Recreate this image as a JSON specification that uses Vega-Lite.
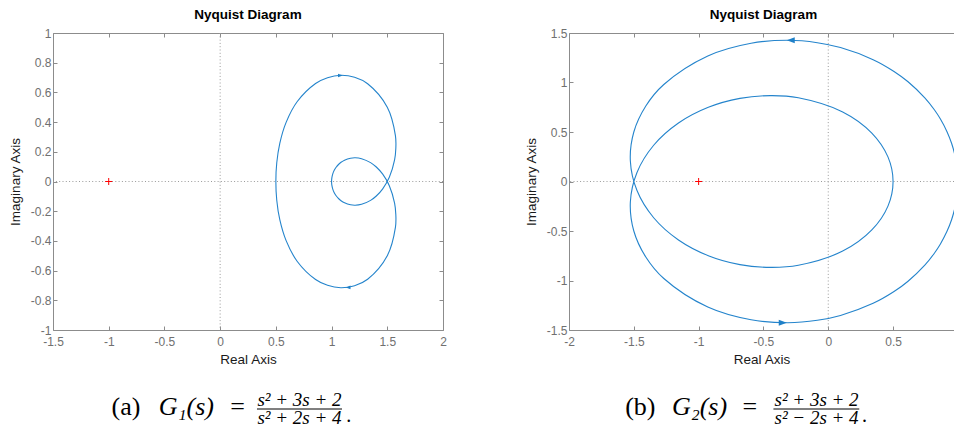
{
  "$schema": "https://vega.github.io/schema/vega-lite/v6.json",
  "background": "white",
  "padding": {"left": 8, "top": 7, "right": 0, "bottom": 0},
  "datasets": {
    "g1": [
      {"w": -1000000, "re": 1, "im": 0},
      {"w": -100, "re": 1.0004, "im": 0.0100},
      {"w": -40, "re": 1.0025, "im": 0.0249},
      {"w": -20, "re": 1.0100, "im": 0.0495},
      {"w": -13, "re": 1.0239, "im": 0.0750},
      {"w": -10, "re": 1.0408, "im": 0.0957},
      {"w": -8, "re": 1.0643, "im": 0.1162},
      {"w": -7, "re": 1.0847, "im": 0.1292},
      {"w": -6, "re": 1.1164, "im": 0.1438},
      {"w": -5, "re": 1.1701, "im": 0.1571},
      {"w": -4.5, "re": 1.2116, "im": 0.1598},
      {"w": -4, "re": 1.2692, "im": 0.1538},
      {"w": -3.5, "re": 1.3502, "im": 0.1271},
      {"w": -3.25, "re": 1.4015, "im": 0.0976},
      {"w": -3, "re": 1.4590, "im": 0.0492},
      {"w": -2.75, "re": 1.5182, "im": -0.0280},
      {"w": -2.5, "re": 1.5655, "im": -0.1455},
      {"w": -2.375, "re": 1.5766, "im": -0.2219},
      {"w": -2.25, "re": 1.5730, "im": -0.3092},
      {"w": -2, "re": 1.5, "im": -0.5},
      {"w": -1.75, "re": 1.3237, "im": -0.6581},
      {"w": -1.625, "re": 1.2065, "im": -0.7018},
      {"w": -1.5, "re": 1.0829, "im": -0.7150},
      {"w": -1.375, "re": 0.9636, "im": -0.6993},
      {"w": -1.25, "re": 0.8565, "im": -0.6601},
      {"w": -1, "re": 0.6923, "im": -0.5385},
      {"w": -0.75, "re": 0.5912, "im": -0.3966},
      {"w": -0.5, "re": 0.5353, "im": -0.2573},
      {"w": -0.25, "re": 0.5081, "im": -0.1260},
      {"w": 0, "re": 0.5, "im": 0},
      {"w": 0.25, "re": 0.5081, "im": 0.1260},
      {"w": 0.5, "re": 0.5353, "im": 0.2573},
      {"w": 0.75, "re": 0.5912, "im": 0.3966},
      {"w": 1, "re": 0.6923, "im": 0.5385},
      {"w": 1.25, "re": 0.8565, "im": 0.6601},
      {"w": 1.375, "re": 0.9636, "im": 0.6993},
      {"w": 1.5, "re": 1.0829, "im": 0.7150},
      {"w": 1.625, "re": 1.2065, "im": 0.7018},
      {"w": 1.75, "re": 1.3237, "im": 0.6581},
      {"w": 2, "re": 1.5, "im": 0.5},
      {"w": 2.25, "re": 1.5730, "im": 0.3092},
      {"w": 2.375, "re": 1.5766, "im": 0.2219},
      {"w": 2.5, "re": 1.5655, "im": 0.1455},
      {"w": 2.75, "re": 1.5182, "im": 0.0280},
      {"w": 3, "re": 1.4590, "im": -0.0492},
      {"w": 3.25, "re": 1.4015, "im": -0.0976},
      {"w": 3.5, "re": 1.3502, "im": -0.1271},
      {"w": 4, "re": 1.2692, "im": -0.1538},
      {"w": 4.5, "re": 1.2116, "im": -0.1598},
      {"w": 5, "re": 1.1701, "im": -0.1571},
      {"w": 6, "re": 1.1164, "im": -0.1438},
      {"w": 7, "re": 1.0847, "im": -0.1292},
      {"w": 8, "re": 1.0643, "im": -0.1162},
      {"w": 10, "re": 1.0408, "im": -0.0957},
      {"w": 13, "re": 1.0239, "im": -0.0750},
      {"w": 20, "re": 1.0100, "im": -0.0495},
      {"w": 40, "re": 1.0025, "im": -0.0249},
      {"w": 100, "re": 1.0004, "im": -0.0100},
      {"w": 1000000, "re": 1, "im": 0}
    ],
    "g2": [
      {"w": -1000000, "re": 1, "im": 0},
      {"w": -100, "re": 0.9992, "im": 0.0499},
      {"w": -40, "re": 0.9950, "im": 0.1251},
      {"w": -20, "re": 0.9798, "im": 0.2505},
      {"w": -13, "re": 0.9513, "im": 0.3863},
      {"w": -10, "re": 0.9160, "im": 0.5033},
      {"w": -8, "re": 0.8652, "im": 0.6307},
      {"w": -7, "re": 0.8199, "im": 0.7218},
      {"w": -6, "re": 0.7466, "im": 0.8425},
      {"w": -5, "re": 0.6155, "im": 1.0074},
      {"w": -4.5, "re": 0.5073, "im": 1.1118},
      {"w": -4, "re": 0.3462, "im": 1.2308},
      {"w": -3.5, "re": 0.0945, "im": 1.3529},
      {"w": -3.25, "re": -0.0842, "im": 1.4023},
      {"w": -3, "re": -0.3115, "im": 1.4262},
      {"w": -2.75, "re": -0.5952, "im": 1.3969},
      {"w": -2.5, "re": -0.9293, "im": 1.2682},
      {"w": -2.25, "re": -1.2686, "im": 0.9801},
      {"w": -2.125, "re": -1.4075, "im": 0.7627},
      {"w": -2, "re": -1.5, "im": 0.5},
      {"w": -1.875, "re": -1.5267, "im": 0.2070},
      {"w": -1.75, "re": -1.4755, "im": -0.0916},
      {"w": -1.625, "re": -1.3468, "im": -0.3662},
      {"w": -1.5, "re": -1.1554, "im": -0.5907},
      {"w": -1.375, "re": -0.9252, "im": -0.7494},
      {"w": -1.25, "re": -0.6815, "im": -0.8395},
      {"w": -1.125, "re": -0.4455, "im": -0.8677},
      {"w": -1, "re": -0.2308, "im": -0.8462},
      {"w": -0.75, "re": 0.1114, "im": -0.7031},
      {"w": -0.5, "re": 0.3361, "im": -0.4896},
      {"w": -0.25, "re": 0.4605, "im": -0.2490},
      {"w": 0, "re": 0.5, "im": 0},
      {"w": 0.25, "re": 0.4605, "im": 0.2490},
      {"w": 0.5, "re": 0.3361, "im": 0.4896},
      {"w": 0.75, "re": 0.1114, "im": 0.7031},
      {"w": 1, "re": -0.2308, "im": 0.8462},
      {"w": 1.125, "re": -0.4455, "im": 0.8677},
      {"w": 1.25, "re": -0.6815, "im": 0.8395},
      {"w": 1.375, "re": -0.9252, "im": 0.7494},
      {"w": 1.5, "re": -1.1554, "im": 0.5907},
      {"w": 1.625, "re": -1.3468, "im": 0.3662},
      {"w": 1.75, "re": -1.4755, "im": 0.0916},
      {"w": 1.875, "re": -1.5267, "im": -0.2070},
      {"w": 2, "re": -1.5, "im": -0.5},
      {"w": 2.125, "re": -1.4075, "im": -0.7627},
      {"w": 2.25, "re": -1.2686, "im": -0.9801},
      {"w": 2.5, "re": -0.9293, "im": -1.2682},
      {"w": 2.75, "re": -0.5952, "im": -1.3969},
      {"w": 3, "re": -0.3115, "im": -1.4262},
      {"w": 3.25, "re": -0.0842, "im": -1.4023},
      {"w": 3.5, "re": 0.0945, "im": -1.3529},
      {"w": 4, "re": 0.3462, "im": -1.2308},
      {"w": 4.5, "re": 0.5073, "im": -1.1118},
      {"w": 5, "re": 0.6155, "im": -1.0074},
      {"w": 6, "re": 0.7466, "im": -0.8425},
      {"w": 7, "re": 0.8199, "im": -0.7218},
      {"w": 8, "re": 0.8652, "im": -0.6307},
      {"w": 10, "re": 0.9160, "im": -0.5033},
      {"w": 13, "re": 0.9513, "im": -0.3863},
      {"w": 20, "re": 0.9798, "im": -0.2505},
      {"w": 40, "re": 0.9950, "im": -0.1251},
      {"w": 100, "re": 0.9992, "im": -0.0499},
      {"w": 1000000, "re": 1, "im": 0}
    ],
    "arrows1": [
      {"re": 1.10, "im": 0.714, "dir": "right"},
      {"re": 1.128, "im": -0.713, "dir": "left"}
    ],
    "arrows2": [
      {"re": -0.32, "im": 1.427, "dir": "left"},
      {"re": -0.32, "im": -1.427, "dir": "right"}
    ],
    "critical": [{"re": -1, "im": 0}]
  },
  "concat": [
    {
      "width": 390,
      "height": 297,
      "title": {"text": "Nyquist Diagram"},
      "layer": [
        {
          "data": {"values": [{}]},
          "mark": {"type": "rule", "color": "#9a9a9a", "strokeWidth": 1, "strokeDash": [1, 2.3]},
          "encoding": {"x": {"datum": 0, "type": "quantitative", "scale": {"domain": [-1.5, 2], "nice": false, "zero": false}, "axis": null}}
        },
        {
          "data": {"values": [{}]},
          "mark": {"type": "rule", "color": "#9a9a9a", "strokeWidth": 1, "strokeDash": [1, 2.3]},
          "encoding": {"y": {"datum": 0, "type": "quantitative", "scale": {"domain": [-1, 1], "nice": false, "zero": false}, "axis": null}}
        },
        {
          "data": {"name": "g1"},
          "mark": {"type": "line", "interpolate": "catmull-rom", "color": "#2484cc", "strokeWidth": 1.1, "clip": true},
          "encoding": {
            "x": {"field": "re", "type": "quantitative", "scale": {"domain": [-1.5, 2], "nice": false, "zero": false},
                  "axis": {"orient": "bottom", "title": "Real Axis", "values": [-1.5, -1, -0.5, 0, 0.5, 1, 1.5, 2], "labelExpr": "'' + datum.value"}},
            "y": {"field": "im", "type": "quantitative", "scale": {"domain": [-1, 1], "nice": false, "zero": false},
                  "axis": {"orient": "left", "title": "Imaginary Axis", "values": [-1, -0.8, -0.6, -0.4, -0.2, 0, 0.2, 0.4, 0.6, 0.8, 1], "labelExpr": "'' + datum.value"}},
            "order": {"field": "w", "type": "quantitative"}
          }
        },
        {
          "data": {"name": "arrows1"},
          "mark": {"type": "point", "filled": true, "color": "#1f80c8", "opacity": 1, "size": 22},
          "encoding": {
            "x": {"field": "re", "type": "quantitative", "scale": {"domain": [-1.5, 2], "nice": false, "zero": false}, "axis": null},
            "y": {"field": "im", "type": "quantitative", "scale": {"domain": [-1, 1], "nice": false, "zero": false}, "axis": null},
            "shape": {"field": "dir", "type": "nominal", "legend": null,
                      "scale": {"domain": ["left", "right"], "range": ["M0,0L2,-0.75L2,0.75Z", "M0,0L-2,-0.75L-2,0.75Z"]}}
          }
        },
        {
          "data": {"name": "critical"},
          "mark": {"type": "point", "shape": "M-1,0H1M0,-1V1", "size": 49, "filled": false, "color": "#ff0000", "strokeWidth": 1, "opacity": 1},
          "encoding": {
            "x": {"field": "re", "type": "quantitative", "scale": {"domain": [-1.5, 2], "nice": false, "zero": false},
                  "axis": {"orient": "top", "labels": false, "title": null, "values": [-1.5, -1, -0.5, 0, 0.5, 1, 1.5, 2]}},
            "y": {"field": "im", "type": "quantitative", "scale": {"domain": [-1, 1], "nice": false, "zero": false},
                  "axis": {"orient": "right", "labels": false, "title": null, "values": [-1, -0.8, -0.6, -0.4, -0.2, 0, 0.2, 0.4, 0.6, 0.8, 1]}}
          }
        }
      ],
      "resolve": {"axis": {"x": "independent", "y": "independent"}}
    },
    {
      "width": 385,
      "height": 297,
      "title": {"text": "Nyquist Diagram", "dx": 2},
      "layer": [
        {
          "data": {"values": [{}]},
          "mark": {"type": "rule", "color": "#9a9a9a", "strokeWidth": 1, "strokeDash": [1, 2.3]},
          "encoding": {"x": {"datum": 0, "type": "quantitative", "scale": {"domain": [-2, 0.97], "nice": false, "zero": false}, "axis": null}}
        },
        {
          "data": {"values": [{}]},
          "mark": {"type": "rule", "color": "#9a9a9a", "strokeWidth": 1, "strokeDash": [1, 2.3]},
          "encoding": {"y": {"datum": 0, "type": "quantitative", "scale": {"domain": [-1.5, 1.5], "nice": false, "zero": false}, "axis": null}}
        },
        {
          "data": {"name": "g2"},
          "mark": {"type": "line", "interpolate": "catmull-rom", "color": "#2484cc", "strokeWidth": 1.1, "clip": true},
          "encoding": {
            "x": {"field": "re", "type": "quantitative", "scale": {"domain": [-2, 0.97], "nice": false, "zero": false},
                  "axis": {"orient": "bottom", "title": "Real Axis", "values": [-2, -1.5, -1, -0.5, 0, 0.5], "labelExpr": "'' + datum.value"}},
            "y": {"field": "im", "type": "quantitative", "scale": {"domain": [-1.5, 1.5], "nice": false, "zero": false},
                  "axis": {"orient": "left", "title": "Imaginary Axis", "values": [-1.5, -1, -0.5, 0, 0.5, 1, 1.5], "labelExpr": "'' + datum.value"}},
            "order": {"field": "w", "type": "quantitative"}
          }
        },
        {
          "data": {"name": "arrows2"},
          "mark": {"type": "point", "filled": true, "color": "#1f80c8", "opacity": 1, "size": 64},
          "encoding": {
            "x": {"field": "re", "type": "quantitative", "scale": {"domain": [-2, 0.97], "nice": false, "zero": false}, "axis": null},
            "y": {"field": "im", "type": "quantitative", "scale": {"domain": [-1.5, 1.5], "nice": false, "zero": false}, "axis": null},
            "shape": {"field": "dir", "type": "nominal", "legend": null,
                      "scale": {"domain": ["left", "right"], "range": ["M0,0L2,-0.75L2,0.75Z", "M0,0L-2,-0.75L-2,0.75Z"]}}
          }
        },
        {
          "data": {"name": "critical"},
          "mark": {"type": "point", "shape": "M-1,0H1M0,-1V1", "size": 49, "filled": false, "color": "#ff0000", "strokeWidth": 1, "opacity": 1},
          "encoding": {
            "x": {"field": "re", "type": "quantitative", "scale": {"domain": [-2, 0.97], "nice": false, "zero": false},
                  "axis": {"orient": "top", "labels": false, "title": null, "values": [-2, -1.5, -1, -0.5, 0, 0.5]}},
            "y": {"field": "im", "type": "quantitative", "scale": {"domain": [-1.5, 1.5], "nice": false, "zero": false}, "axis": null}
          }
        }
      ],
      "resolve": {"axis": {"x": "independent", "y": "independent"}}
    },
    {
      "width": 390,
      "height": 30,
      "data": {"values": [{}]},
      "encoding": {
        "x": {"type": "quantitative", "scale": {"domain": [0, 100], "nice": false, "zero": false}, "axis": null},
        "y": {"type": "quantitative", "scale": {"domain": [0, 1], "nice": false, "zero": false}, "axis": null}
      },
      "layer": [
        {"mark": {"type": "text", "text": "(a)", "font": "Liberation Serif", "fontSize": 26, "align": "left", "baseline": "alphabetic", "color": "#000"},
         "encoding": {"x": {"datum": 15.0}, "y": {"datum": 0.33}}},
        {"mark": {"type": "text", "text": "G₁(s)", "font": "Liberation Serif", "fontStyle": "italic", "fontSize": 26, "align": "center", "baseline": "alphabetic", "color": "#000"},
         "encoding": {"x": {"datum": 34.2}, "y": {"datum": 0.33}}},
        {"mark": {"type": "text", "text": "=", "font": "Liberation Serif", "fontSize": 26, "align": "center", "baseline": "alphabetic", "color": "#000"},
         "encoding": {"x": {"datum": 47.3}, "y": {"datum": 0.33}}},
        {"mark": {"type": "text", "text": "s² + 3s + 2", "font": "Liberation Serif", "fontStyle": "italic", "fontSize": 19, "align": "center", "baseline": "alphabetic", "color": "#000"},
         "encoding": {"x": {"datum": 63.2}, "y": {"datum": 0.63}}},
        {"mark": {"type": "rule", "color": "#000", "strokeWidth": 1},
         "encoding": {"x": {"datum": 52.3}, "x2": {"datum": 74.1}, "y": {"datum": 0.533}}},
        {"mark": {"type": "text", "text": "s² + 2s + 4", "font": "Liberation Serif", "fontStyle": "italic", "fontSize": 19, "align": "center", "baseline": "alphabetic", "color": "#000"},
         "encoding": {"x": {"datum": 63.2}, "y": {"datum": 0.05}}},
        {"mark": {"type": "text", "text": ".", "font": "Liberation Serif", "fontSize": 20, "align": "left", "baseline": "alphabetic", "color": "#000"},
         "encoding": {"x": {"datum": 75.2}, "y": {"datum": 0.1}}}
      ]
    },
    {
      "width": 385,
      "height": 30,
      "data": {"values": [{}]},
      "encoding": {
        "x": {"type": "quantitative", "scale": {"domain": [0, 100], "nice": false, "zero": false}, "axis": null},
        "y": {"type": "quantitative", "scale": {"domain": [0, 1], "nice": false, "zero": false}, "axis": null}
      },
      "layer": [
        {"mark": {"type": "text", "text": "(b)", "font": "Liberation Serif", "fontSize": 26, "align": "left", "baseline": "alphabetic", "color": "#000"},
         "encoding": {"x": {"datum": 14.6}, "y": {"datum": 0.33}}},
        {"mark": {"type": "text", "text": "G₂(s)", "font": "Liberation Serif", "fontStyle": "italic", "fontSize": 26, "align": "center", "baseline": "alphabetic", "color": "#000"},
         "encoding": {"x": {"datum": 33.9}, "y": {"datum": 0.33}}},
        {"mark": {"type": "text", "text": "=", "font": "Liberation Serif", "fontSize": 26, "align": "center", "baseline": "alphabetic", "color": "#000"},
         "encoding": {"x": {"datum": 47.0}, "y": {"datum": 0.33}}},
        {"mark": {"type": "text", "text": "s² + 3s + 2", "font": "Liberation Serif", "fontStyle": "italic", "fontSize": 19, "align": "center", "baseline": "alphabetic", "color": "#000"},
         "encoding": {"x": {"datum": 64.3}, "y": {"datum": 0.63}}},
        {"mark": {"type": "rule", "color": "#000", "strokeWidth": 1},
         "encoding": {"x": {"datum": 53.1}, "x2": {"datum": 75.4}, "y": {"datum": 0.533}}},
        {"mark": {"type": "text", "text": "s² − 2s + 4", "font": "Liberation Serif", "fontStyle": "italic", "fontSize": 19, "align": "center", "baseline": "alphabetic", "color": "#000"},
         "encoding": {"x": {"datum": 64.3}, "y": {"datum": 0.05}}},
        {"mark": {"type": "text", "text": ".", "font": "Liberation Serif", "fontSize": 20, "align": "left", "baseline": "alphabetic", "color": "#000"},
         "encoding": {"x": {"datum": 76.1}, "y": {"datum": 0.1}}}
      ]
    }
  ],
  "columns": 2,
  "spacing": {"row": 65, "column": 126},
  "bounds": "flush",
  "config": {
    "font": "Liberation Sans",
    "view": {"stroke": null},
    "title": {"font": "Liberation Sans", "fontSize": 13.5, "fontWeight": "bold", "color": "#000000", "offset": 6, "anchor": "middle"},
    "axis": {
      "grid": false,
      "labelFont": "Liberation Sans",
      "labelFontSize": 12,
      "labelColor": "#707070",
      "labelFlush": false,
      "labelPadding": 6,
      "titleFont": "Liberation Sans",
      "titleFontSize": 13.5,
      "titleFontWeight": "normal",
      "titleColor": "#1a1a1a",
      "titlePadding": 3,
      "domainColor": "#8c8c8c",
      "domainWidth": 1,
      "tickColor": "#8c8c8c",
      "tickWidth": 1,
      "tickSize": -4
    },
    "axisX": {"labelPadding": 10, "titlePadding": 5},
    "axisY": {"titlePadding": 8}
  }
}
